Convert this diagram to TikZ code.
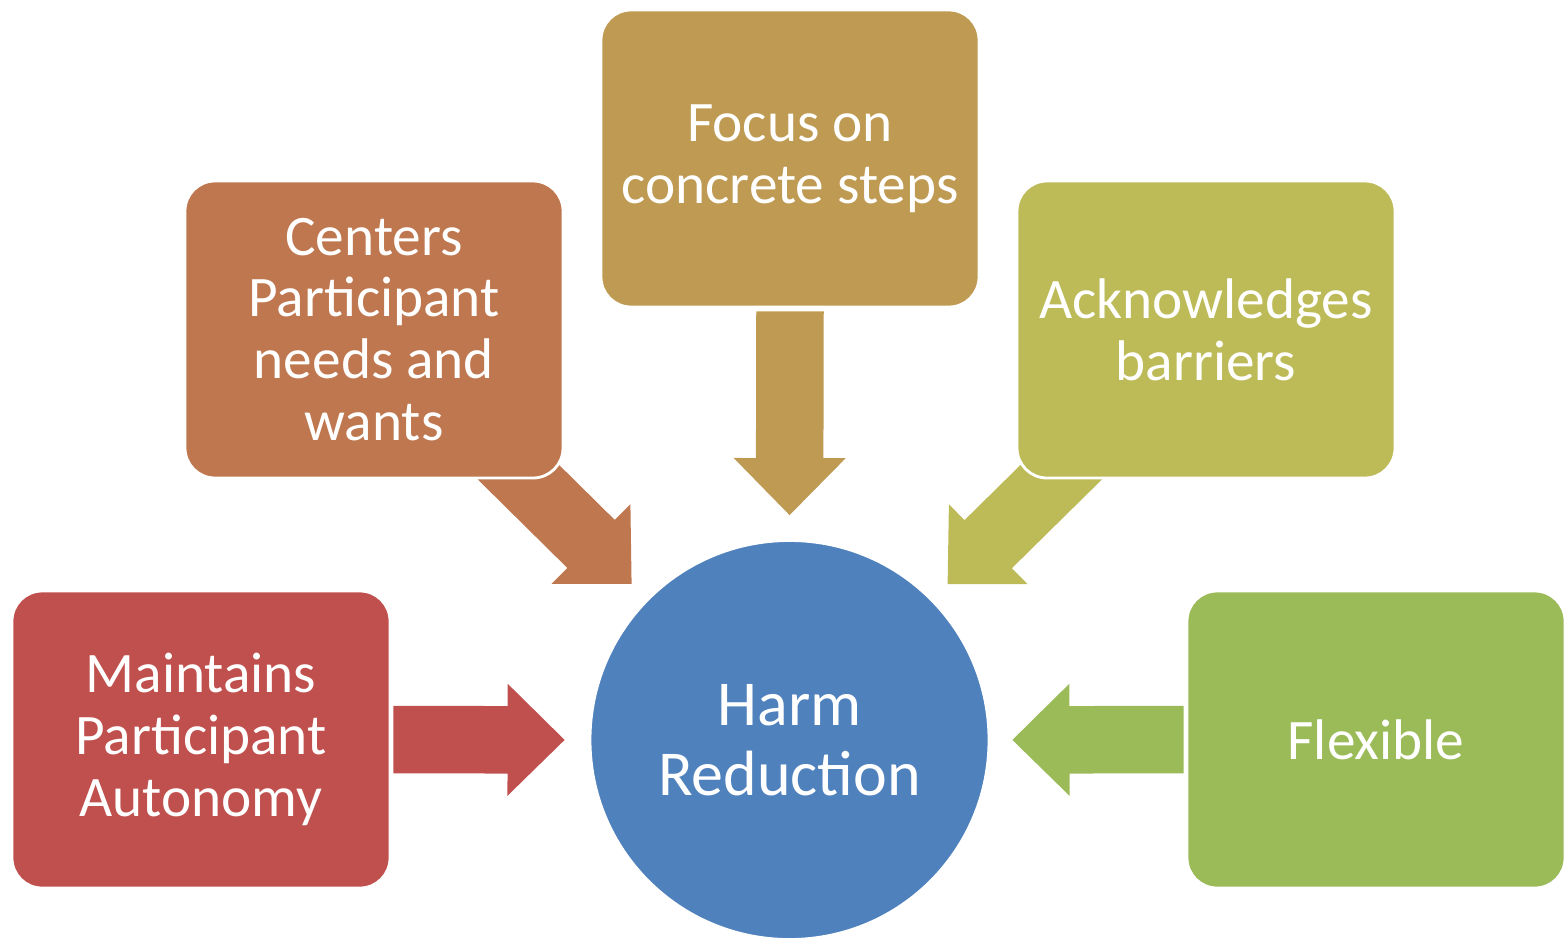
\documentclass[tikz,border=0pt]{standalone}
\usepackage{fontspec}
\setmainfont{Carlito}
\usepackage{tikz}
\usetikzlibrary{calc, backgrounds}

\definecolor{autonomy}{HTML}{C0504D}
\definecolor{needs}{HTML}{BF774F}
\definecolor{steps}{HTML}{BE9A52}
\definecolor{barriers}{HTML}{BDBB58}
\definecolor{flexible}{HTML}{9BBB59}
\definecolor{harm}{HTML}{4F81BD}

\tikzset{
	idea/.style={rectangle, rounded corners=0.3cm, draw=white, line width=0.8pt,
		minimum width=3.78cm, minimum height=2.97cm, text=white, align=center,
		font=\fontsize{16.3}{17.6}\selectfont},
	core/.style={circle, draw=white, line width=0.8pt, fill=harm, minimum size=3.99cm,
		text=white, align=center, font=\fontsize{18.2}{19.9}\selectfont}
}

% block arrow: colour, tail point, tip point
\newcommand{\blockarrow}[3]{
	\coordinate (tail) at #2;
	\coordinate (tip) at #3;
	\coordinate (base) at ($(tip)!0.57cm!(tail)$);
	\fill[#1]
		($(tail)!0.3375cm!90:(tip)$) -- ($(base)!0.3375cm!90:(tip)$)
		-- ($(base)!0.56cm!90:(tip)$) -- (tip) -- ($(base)!0.56cm!-90:(tip)$)
		-- ($(base)!0.3375cm!-90:(tip)$) -- ($(tail)!0.3375cm!-90:(tip)$) -- cycle;
}

\begin{document}
\begin{tikzpicture}
	\useasboundingbox (0,0) rectangle (15.65,9.37);

	\draw
		(7.895,1.97) node[core] (harm) {Harm\\Reduction};

	\draw
		(2.01,1.975) node[idea, fill=autonomy] (auton) {Maintains\\Participant\\Autonomy}
		(3.74,6.075) node[idea, fill=needs] (needs) {Centers\\Participant\\needs and\\wants}
		(7.90,7.785) node[idea, fill=steps] (steps) {Focus on\\concrete steps}
		(12.06,6.075) node[idea, fill=barriers] (barr) {Acknowledges\\barriers}
		(13.76,1.975) node[idea, fill=flexible] (flex) {Flexible};

	\begin{scope}[on background layer]
		\blockarrow{autonomy}{($(auton.east)!0.02cm!(harm.west)$)}{($(harm.west)!0.24cm!(auton.east)$)}
		\blockarrow{needs}{(needs.center)}{($(harm.center)!2.22cm!(needs.center)$)}
		\blockarrow{steps}{($(steps.south)!0.03cm!(harm.north)$)}{($(harm.north)!0.24cm!(steps.south)$)}
		\blockarrow{barriers}{(barr.center)}{($(harm.center)!2.22cm!(barr.center)$)}
		\blockarrow{flexible}{($(flex.west)!0.02cm!(harm.east)$)}{($(harm.east)!0.22cm!(flex.west)$)}
	\end{scope}
\end{tikzpicture}
\end{document}
